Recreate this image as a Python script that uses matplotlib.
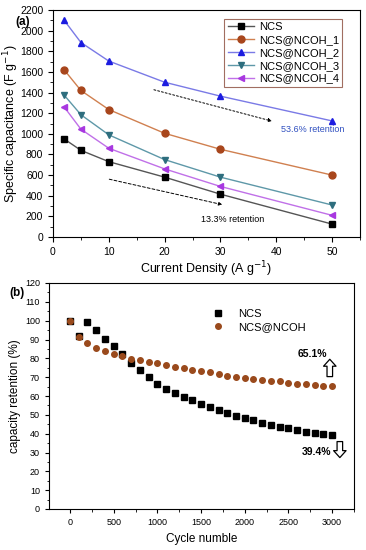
import numpy as np
import matplotlib
matplotlib.use('Agg')
import matplotlib.pyplot as plt
from matplotlib.ticker import MultipleLocator

plt.rcParams['font.family'] = ['Liberation Sans', 'DejaVu Sans']

# panel (a): rate capability
current = [2, 5, 10, 20, 30, 50]
cap_ncs = [950, 840, 730, 580, 415, 125]
cap_1 = [1620, 1420, 1235, 1005, 850, 600]
cap_2 = [2100, 1885, 1705, 1500, 1365, 1125]
cap_3 = [1375, 1185, 990, 750, 580, 310]
cap_4 = [1260, 1045, 860, 660, 490, 210]

# panel (b): cycling stability
cycles = list(range(0, 3001, 100))
ret_ncs = [100, 92, 99.5, 95.2, 90.2, 86.6, 82.3, 77.7, 73.6, 70, 66.4,
           63.9, 61.4, 59.5, 57.9, 55.6, 53.9, 52.5, 51, 49.5, 48.1,
           47.1, 45.6, 44.6, 43.7, 42.9, 42.1, 41.1, 40.3, 40, 39.4]
ret_ncoh = [100, 91.1, 87.9, 85.6, 84.1, 82.4, 81.3, 79.8, 79, 78, 77.4,
            76.5, 75.6, 75, 74, 73.4, 72.8, 71.6, 70.6, 70, 69.5,
            68.9, 68.4, 68.1, 67.8, 67, 66.6, 66.3, 66, 65.4, 65.1]

fig = plt.figure(figsize=(3.66, 5.5), dpi=100)
ax1 = fig.add_axes([53/366, 1 - 237/550, 307/366, 227/550])
ax2 = fig.add_axes([49/366, 1 - 509/550, 305/366, 226/550])

series = [
    ('NCS', cap_ncs, 's', 'black', '#555555'),
    ('NCS@NCOH_1', cap_1, 'o', '#a8461c', '#d08050'),
    ('NCS@NCOH_2', cap_2, '^', '#1c1ce0', '#7a7ae6'),
    ('NCS@NCOH_3', cap_3, 'v', '#2e6e7e', '#5e98a8'),
    ('NCS@NCOH_4', cap_4, '<', '#a838e0', '#c070e8'),
]
for name, vals, mk, mc, lc in series:
    ax1.plot(current, vals, color=lc, lw=1.0, marker=mk, ms=5,
             mfc=mc, mec=mc, label=name)

ax1.set_xlim(0, 55)
ax1.set_ylim(0, 2200)
ax1.xaxis.set_major_locator(MultipleLocator(10))
ax1.xaxis.set_minor_locator(MultipleLocator(5))
ax1.yaxis.set_major_locator(MultipleLocator(200))
ax1.yaxis.set_minor_locator(MultipleLocator(100))
ax1.tick_params(which='both', direction='out', top=False, right=False,
                labelsize=7.5)
ax1.tick_params(which='major', length=3.5)
ax1.tick_params(which='minor', length=2)
ax1.set_xlabel('Current Density (A g$^{-1}$)', fontsize=9, labelpad=2)
ax1.set_ylabel('Specific capacitance (F g$^{-1}$)', fontsize=9)
ax1.yaxis.set_label_coords(-0.103, 0.5)
leg = ax1.legend(loc='upper right', fontsize=8, frameon=True, fancybox=False,
                 edgecolor='#8a4a3a', handlelength=2.4, borderpad=0.3,
                 labelspacing=0.25, handletextpad=0.4,
                 bbox_to_anchor=(0.96, 0.985))
leg.get_frame().set_linewidth(0.8)

ax1.annotate('', xy=(39.7, 1116), xytext=(17.6, 1434),
             arrowprops=dict(arrowstyle='-|>', ls=(0, (2, 2)), lw=0.7,
                             color='black', mutation_scale=5))
ax1.text(46.6, 1040, '53.6% retention', color='#3050c0', fontsize=6.5,
         ha='center', va='center')
ax1.annotate('', xy=(30.8, 308), xytext=(9.6, 566),
             arrowprops=dict(arrowstyle='-|>', ls=(0, (3, 2)), lw=0.7,
                             color='black', mutation_scale=5))
ax1.text(32.1, 173, '13.3% retention', color='black', fontsize=6.5,
         ha='center', va='center')
ax1.text(-0.1, 0.948, '(a)', transform=ax1.transAxes, fontsize=8.5,
         fontweight='bold', ha='center', va='center')

ax2.plot(cycles, ret_ncs, 's', color='black', ms=4, label='NCS')
ax2.plot(cycles, ret_ncoh, 'o', color='#9a4a1c', ms=4, label='NCS@NCOH')
ax2.set_xlim(-240, 3250)
ax2.set_ylim(0, 120)
ax2.xaxis.set_major_locator(MultipleLocator(500))
ax2.xaxis.set_minor_locator(MultipleLocator(250))
ax2.yaxis.set_major_locator(MultipleLocator(10))
ax2.yaxis.set_minor_locator(MultipleLocator(5))
ax2.tick_params(which='both', direction='out', top=False, right=False,
                labelsize=6.5)
ax2.tick_params(which='major', length=3)
ax2.tick_params(which='minor', length=1.8)
ax2.set_xlabel('Cycle numble', fontsize=8.5, labelpad=4)
ax2.set_ylabel('capacity retention (%)', fontsize=8.5)
ax2.yaxis.set_label_coords(-0.093, 0.5)
ax2.legend(loc='upper left', bbox_to_anchor=(0.5, 0.93), frameon=False,
           fontsize=8, handletextpad=1.2, labelspacing=0.3, handlelength=1.2)

ax2.text(2770, 82.3, '65.1%', fontsize=7.5, fontweight='bold',
         ha='center', va='center')
ax2.annotate('', xy=(2973, 79.5), xytext=(2973, 70.3),
             arrowprops=dict(arrowstyle='simple,head_width=0.9,tail_width=0.4',
                             fc='white', ec='black', lw=0.9,
                             mutation_scale=10, shrinkA=0, shrinkB=0))
ax2.text(2825, 30.4, '39.4%', fontsize=7.5, fontweight='bold',
         ha='center', va='center')
ax2.annotate('', xy=(3088, 27.3), xytext=(3088, 35.8),
             arrowprops=dict(arrowstyle='simple,head_width=0.9,tail_width=0.4',
                             fc='white', ec='black', lw=0.9,
                             mutation_scale=10, shrinkA=0, shrinkB=0))
ax2.text(-0.105, 0.955, '(b)', transform=ax2.transAxes, fontsize=8.5,
         fontweight='bold', ha='center', va='center')

fig.savefig('out.png', dpi=100)
